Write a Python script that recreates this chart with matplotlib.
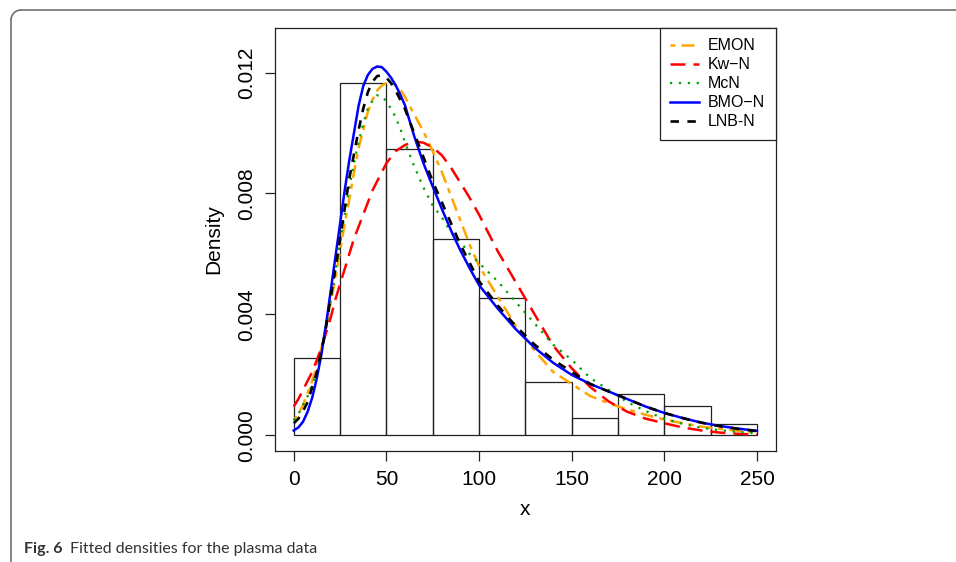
import matplotlib
matplotlib.use("Agg")
import matplotlib.pyplot as plt
from matplotlib.patches import Arc
from matplotlib.lines import Line2D
import numpy as np

# histogram of the plasma data (density scale)
bin_edges = [0, 25, 50, 75, 100, 125, 150, 175, 200, 225, 250]
bin_density = [0.00255, 0.01165, 0.00948, 0.00651, 0.00454, 0.00177,
               0.00059, 0.00138, 0.00098, 0.00039]

# fitted densities
x_grid = [0, 2.5, 5, 7.5, 10, 12.5, 15, 17.5, 20, 22.5, 25, 27.5, 30, 32.5, 35,
          37.5, 40, 42.5, 45, 47.5, 50, 52.5, 55, 57.5, 60, 65, 70, 75, 80, 85,
          90, 95, 100, 110, 120, 130, 140, 150, 160, 170, 180, 190, 200, 210,
          220, 230, 240, 250]
emon = [0.0005, 0.0007, 0.0010, 0.0014, 0.0018, 0.0023, 0.0029, 0.0036, 0.0044,
        0.0052, 0.0061, 0.0070, 0.0078, 0.0087, 0.0095, 0.0101, 0.0107, 0.0111,
        0.0114, 0.01157, 0.01165, 0.01166, 0.01158, 0.01143, 0.0112, 0.01062,
        0.01005, 0.0094, 0.0087, 0.0079, 0.0071, 0.0063, 0.0056, 0.0046, 0.0036,
        0.0028, 0.0021, 0.0017, 0.0013, 0.00106, 0.00086, 0.00068, 0.00052,
        0.00040, 0.00029, 0.00021, 0.00015, 0.00010]
kwn = [0.00095, 0.0012, 0.0015, 0.0018, 0.0021, 0.0025, 0.0029, 0.0034, 0.0039,
       0.0045, 0.0050, 0.0055, 0.0060, 0.0065, 0.0069, 0.0073, 0.0077, 0.0081,
       0.0084, 0.0087, 0.0090, 0.0092, 0.0094, 0.0095, 0.0096, 0.00972, 0.00968,
       0.00952, 0.00926, 0.00884, 0.00835, 0.00785, 0.00730, 0.0061, 0.00505,
       0.0040, 0.00297, 0.00222, 0.0016, 0.00112, 0.00078, 0.00055, 0.00040,
       0.00026, 0.00016, 0.00009, 0.00005, 0.00002]
mcn = [0.0005, 0.0007, 0.0010, 0.0013, 0.0017, 0.0021, 0.0028, 0.0036, 0.0045,
       0.0054, 0.0064, 0.0073, 0.0082, 0.0090, 0.0097, 0.0103, 0.0108, 0.01107,
       0.01125, 0.01122, 0.01105, 0.01080, 0.01052, 0.01015, 0.0097, 0.0089,
       0.0082, 0.0076, 0.0072, 0.0067, 0.0064, 0.0060, 0.0057, 0.0051, 0.0044,
       0.0037, 0.0030, 0.0025, 0.0019, 0.0015, 0.0011, 0.0008, 0.00055, 0.00038,
       0.00025, 0.00017, 0.00011, 0.00007]
bmon = [0.00016, 0.00026, 0.00045, 0.00078, 0.00125, 0.0019, 0.0027, 0.0037,
        0.0048, 0.0059, 0.0070, 0.0081, 0.0091, 0.0100, 0.0109, 0.01155, 0.01192,
        0.01212, 0.01220, 0.01218, 0.01203, 0.01183, 0.01158, 0.01127, 0.01092,
        0.0099, 0.0090, 0.00823, 0.00748, 0.00676, 0.00611, 0.00552, 0.00497,
        0.0042, 0.0035, 0.0029, 0.0024, 0.0020, 0.0017, 0.00145, 0.0012, 0.00095,
        0.00074, 0.00057, 0.00042, 0.00031, 0.00022, 0.00015]
lnbn = [0.0004, 0.00055, 0.0008, 0.0011, 0.0016, 0.0021, 0.0028, 0.0036, 0.0046,
        0.0055, 0.0065, 0.0075, 0.0085, 0.0093, 0.0101, 0.0108, 0.01135, 0.0117,
        0.01188, 0.01192, 0.01183, 0.01165, 0.0114, 0.0111, 0.0108, 0.0100,
        0.0092, 0.0084, 0.0077, 0.0070, 0.0063, 0.0057, 0.0051, 0.0043, 0.0036,
        0.0030, 0.0025, 0.0021, 0.0017, 0.00145, 0.0012, 0.00095, 0.00074,
        0.00057, 0.00042, 0.00030, 0.00021, 0.00014]

x_ticks = [0, 50, 100, 150, 200, 250]
y_ticks = [0.000, 0.004, 0.008, 0.012]

W, H = 956, 562
fig = plt.figure(figsize=(W / 100, H / 100), dpi=100)
plt.rcParams['font.family'] = ['Liberation Sans', 'DejaVu Sans']

# axes box in pixels: left 275, right 776, top 28, bottom 451
ax = fig.add_axes([275.2 / W, 1 - 451 / H, (775.5 - 275.2) / W, (451 - 28) / H])

widths = np.diff(bin_edges)
ax.bar(bin_edges[:-1], bin_density, width=widths, align='edge', fill=False,
       edgecolor='#222222', linewidth=0.9)

ax.plot(x_grid, emon, color='orange', lw=1.8, ls=(0, (2.0, 2.4, 5.2, 2.4)), label='EMON')
ax.plot(x_grid, kwn, color='red', lw=1.8, ls=(0, (6.0, 3.2)), label='Kw\u2212N')
ax.plot(x_grid, mcn, color='#00a000', lw=1.6, ls=(0, (1.0, 3.0)), label='McN')
ax.plot(x_grid, bmon, color='blue', lw=1.8, ls='-', label='BMO\u2212N')
ax.plot(x_grid, lnbn, color='black', lw=1.9, ls=(0, (3.2, 3.2)), label='LNB-N')

ax.set_xlim(-10, 260)
ax.set_ylim(-0.000518, 0.013473)
ax.set_xticks(x_ticks)
ax.set_xticklabels([str(t) for t in x_ticks])
ax.set_yticks(y_ticks)
ax.set_yticklabels(['%.3f' % t for t in y_ticks], rotation=90, va='center')
ax.tick_params(direction='out', length=7.5, width=0.9, labelsize=15, pad=6, color='#222222')
for s in ax.spines.values():
    s.set_linewidth(0.9)
    s.set_color('#222222')

ax.set_xlabel('x', fontsize=15, labelpad=8)
ax.set_ylabel('Density', fontsize=15, labelpad=10)

leg = ax.legend(loc='upper right', borderaxespad=0, fancybox=False, framealpha=1,
                edgecolor='#222222', fontsize=11.5, handlelength=1.8,
                handletextpad=0.55, labelspacing=0.25, borderpad=0.65)
leg.get_frame().set_linewidth(0.9)

# journal figure frame (open to the right and bottom)
r = 0.10
fx, fy = 11 / 100, (H - 10) / 100
fcol = '#707070'
fig.add_artist(Line2D([fx + r, W / 100 + 0.1], [fy, fy], transform=fig.dpi_scale_trans,
                      color=fcol, lw=1.2))
fig.add_artist(Line2D([fx, fx], [fy - r, -0.1], transform=fig.dpi_scale_trans,
                      color=fcol, lw=1.2))
fig.add_artist(Arc((fx + r, fy - r), 2 * r, 2 * r, theta1=90, theta2=180,
                   transform=fig.dpi_scale_trans, color=fcol, lw=1.2))

# caption
renderer = fig.canvas.get_renderer()
t1 = fig.text(24 / W, 1 - 553 / H, 'Fig. 6', fontsize=11.5, fontweight='bold',
              family='Lato', color='#333333', va='baseline')
bb = t1.get_window_extent(renderer)
fig.text((bb.x1 + 7) / W, 1 - 553 / H, 'Fitted densities for the plasma data',
         fontsize=11.5, family='Lato', color='#333333', va='baseline')

fig.savefig('out.png', dpi=100)
